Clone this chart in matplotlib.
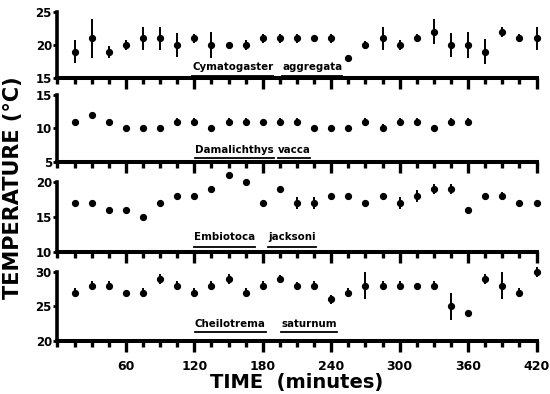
import numpy as np
import matplotlib
matplotlib.use("Agg")
import matplotlib.pyplot as plt
from matplotlib.lines import Line2D

# time of each observation (minutes)
times = list(range(15, 421, 15))

# Cymatogaster aggregata
cym_temp = [19, 21, 19, 20, 21, 21, 20, 21, 20, 20, 20, 21, 21, 21,
            21, 21, 18, 20, 21, 20, 21, 22, 20, 20, 19, 22, 21, 21]
cym_err = [1.8, 2.9, 0.9, 0.8, 1.8, 1.8, 1.8, 0.7, 1.9, 0, 0.7, 0.7, 0.7, 0.7,
           0, 0.7, 0.5, 0.6, 1.8, 0.8, 0.6, 1.9, 1.8, 2.0, 1.9, 0.8, 0.6, 1.8]

# Damalichthys vacca (stops at 360 min)
dam_temp = [11, 12, 11, 10, 10, 10, 11, 11, 10, 11, 11, 11,
            11, 11, 10, 10, 10, 11, 10, 11, 11, 10, 11, 11]
dam_err = [0, 0, 0, 0, 0.4, 0.5, 0.6, 0.6, 0.5, 0.6, 0.6, 0,
           0.6, 0.6, 0, 0.5, 0.5, 0.6, 0.6, 0.6, 0.6, 0.5, 0.6, 0.6]

# Embiotoca jacksoni
emb_temp = [17, 17, 16, 16, 15, 17, 18, 18, 19, 21, 20, 17, 19, 17,
            17, 18, 18, 17, 18, 17, 18, 19, 19, 16, 18, 18, 17, 17]
emb_err = [0, 0, 0, 0, 0, 0, 0, 0, 0, 0, 0, 0, 0, 0.8,
           0.8, 0, 0, 0, 0, 0.8, 0.8, 0.7, 0.7, 0, 0, 0.6, 0, 0]

# Cheilotrema saturnum
che_temp = [27, 28, 28, 27, 27, 29, 28, 27, 28, 29, 27, 28, 29, 28,
            28, 26, 27, 28, 28, 28, 28, 28, 25, 24, 29, 28, 27, 30]
che_err = [0.7, 0.7, 0.7, 0, 0.7, 0.7, 0.7, 0.7, 0.7, 0.7, 0.7, 0.7, 0.6, 0.6,
           0.7, 0.6, 0.7, 2.0, 0.7, 0.7, 0, 0.7, 2.0, 0, 0.7, 2.0, 0.7, 0.7]

panels = [
    (cym_temp, cym_err, (15, 25), ("Cymatogaster", "aggregata"), (118, 197)),
    (dam_temp, dam_err, (5, 15), ("Damalichthys", "vacca"), (120.5, 193)),
    (emb_temp, emb_err, (10, 20), ("Embiotoca", "jacksoni"), (119.5, 184.5)),
    (che_temp, che_err, (20, 30), ("Cheilotrema", "saturnum"), (120.5, 196)),
]

# axes boxes in figure fraction [bottom, top], and label baselines
boxes = [(0.802, 0.9695), (0.589, 0.759), (0.360, 0.538), (0.135, 0.310)]
text_y = [0.12, 0.13, 0.17, 0.20]
line_y = [0.03, 0.065, 0.07, 0.13]

fig = plt.figure(figsize=(5.5, 3.94), dpi=100)
left, right = 0.1045, 0.9755

words = []
for i, (temp, err, ylim, names, xs) in enumerate(panels):
    b, t = boxes[i]
    ax = fig.add_axes([left, b, right - left, t - b])
    n = len(temp)
    ax.errorbar(times[:n], temp, yerr=err, fmt="o", color="black", ms=4.2,
                elinewidth=1.4, capsize=0, clip_on=False)
    ax.set_xlim(0, 420)
    ax.set_ylim(*ylim)
    ax.set_yticks([ylim[0], (ylim[0] + ylim[1]) / 2, ylim[1]])
    ax.set_xticks(range(60, 421, 60))
    ax.set_xticks(range(0, 421, 15), minor=True)
    for s in ("top", "right"):
        ax.spines[s].set_visible(False)
    ax.spines["bottom"].set_linewidth(2.9)
    ax.spines["left"].set_linewidth(2.6)
    ax.tick_params(axis="x", which="major", length=8, width=2.4, direction="out")
    ax.tick_params(axis="x", which="minor", length=4, width=2.4, direction="out")
    ax.tick_params(axis="y", length=3, width=2, direction="out", pad=1,
                   labelsize=8.5)
    for lab in ax.get_yticklabels():
        lab.set_fontweight("bold")
    if i < 3:
        ax.tick_params(axis="x", labelbottom=False)
    else:
        ax.tick_params(axis="x", labelsize=9, pad=6)
        for lab in ax.get_xticklabels():
            lab.set_fontweight("bold")
    for name, x in zip(names, xs):
        tx = ax.text(x, text_y[i], name, transform=ax.get_xaxis_transform(),
                     ha="left", va="baseline", fontsize=7.4, fontweight="bold")
        words.append((ax, tx, line_y[i]))

fig.text(0.024, 0.523, "TEMPERATURE (°C)", rotation=90, ha="center",
         va="center", fontsize=15, fontweight="bold")
fig.text(0.54, 0.03, "TIME  (minutes)", ha="center", va="center",
         fontsize=14, fontweight="bold")

# underline each word of the species names
renderer = fig.canvas.get_renderer()
inv = fig.transFigure.inverted()
for ax, tx, ly in words:
    bb = tx.get_window_extent(renderer).transformed(inv)
    yf = inv.transform(ax.transAxes.transform((0, ly)))[1]
    fig.add_artist(Line2D([bb.x0, bb.x1], [yf, yf], color="black", lw=1.3,
                          transform=fig.transFigure))

fig.savefig("out.png", dpi=100)
